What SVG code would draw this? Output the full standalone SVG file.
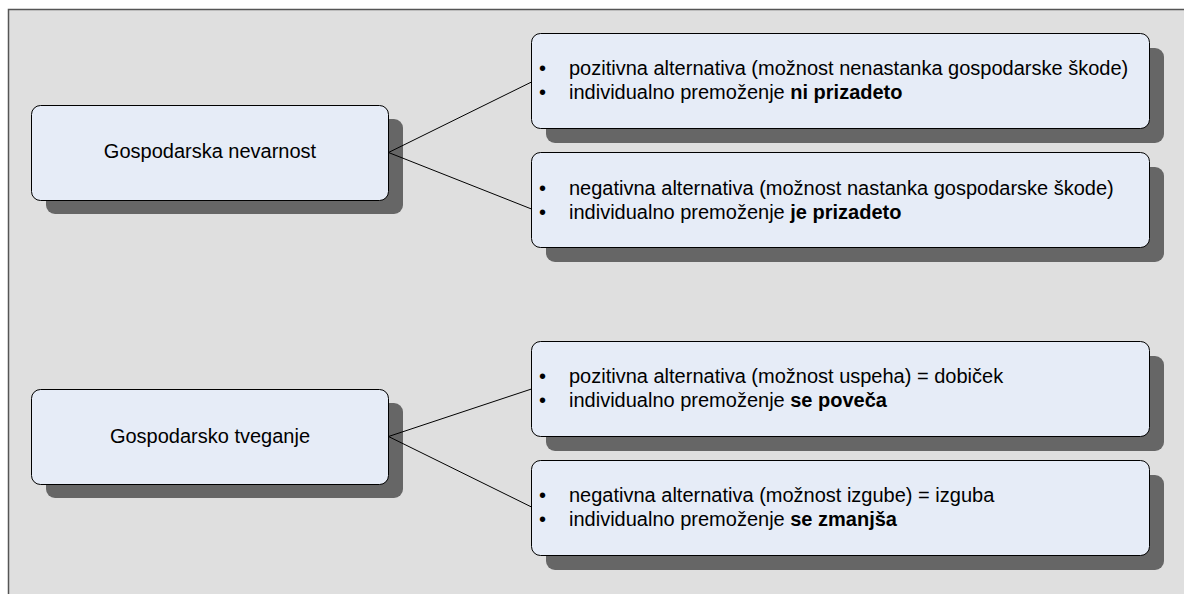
<svg xmlns="http://www.w3.org/2000/svg" width="1184" height="594" viewBox="0 0 1184 594">
  <style>
    .frame { fill: #dfdfdf; stroke: #555555; stroke-width: 1.5; }
    .shadow { fill: #666666; }
    .box { fill: #e6ecf7; stroke: #000000; stroke-width: 1; }
    .link { fill: none; stroke: #000000; stroke-width: 1; }
    text { font-family: "Liberation Sans", Arial, sans-serif; fill: #000000; }
    .title { font-size: 20px; text-anchor: middle; }
    .item { font-size: 20px; }
    .b { font-weight: bold; }
  </style>
  <rect width="1184" height="594" fill="#ffffff"/>
  <rect class="frame" x="8.5" y="9.5" width="1200" height="620"/>

  <g id="nevarnost">
    <rect class="shadow" x="46" y="119" width="357" height="95" rx="9"/>
    <rect class="box" x="31.5" y="105.5" width="357" height="95" rx="9"/>
    <text class="title" x="210" y="158">Gospodarska nevarnost</text>
  </g>

  <g id="nevarnost-pozitivna">
    <rect class="shadow" x="546" y="48" width="618" height="95" rx="9"/>
    <rect class="box" x="531.5" y="33.5" width="618" height="95" rx="9"/>
    <text class="item" x="539" y="75">•</text>
    <text class="item" x="569" y="75">pozitivna alternativa (možnost nenastanka gospodarske škode)</text>
    <text class="item" x="539" y="99">•</text>
    <text class="item" x="569" y="99">individualno premoženje <tspan class="b">ni prizadeto</tspan></text>
  </g>

  <g id="nevarnost-negativna">
    <rect class="shadow" x="546" y="167" width="618" height="95" rx="9"/>
    <rect class="box" x="531.5" y="152.5" width="618" height="95" rx="9"/>
    <text class="item" x="539" y="195">•</text>
    <text class="item" x="569" y="195">negativna alternativa (možnost nastanka gospodarske škode)</text>
    <text class="item" x="539" y="219">•</text>
    <text class="item" x="569" y="219">individualno premoženje <tspan class="b">je prizadeto</tspan></text>
  </g>

  <g id="tveganje">
    <rect class="shadow" x="46" y="403" width="357" height="95" rx="9"/>
    <rect class="box" x="31.5" y="389.5" width="357" height="95" rx="9"/>
    <text class="title" x="210" y="443">Gospodarsko tveganje</text>
  </g>

  <g id="tveganje-pozitivna">
    <rect class="shadow" x="546" y="356" width="618" height="95" rx="9"/>
    <rect class="box" x="531.5" y="341.5" width="618" height="95" rx="9"/>
    <text class="item" x="539" y="383">•</text>
    <text class="item" x="569" y="383">pozitivna alternativa (možnost uspeha) = dobiček</text>
    <text class="item" x="539" y="407">•</text>
    <text class="item" x="569" y="407">individualno premoženje <tspan class="b">se poveča</tspan></text>
  </g>

  <g id="tveganje-negativna">
    <rect class="shadow" x="546" y="475" width="618" height="95" rx="9"/>
    <rect class="box" x="531.5" y="460.5" width="618" height="95" rx="9"/>
    <text class="item" x="539" y="502">•</text>
    <text class="item" x="569" y="502">negativna alternativa (možnost izgube) = izguba</text>
    <text class="item" x="539" y="526">•</text>
    <text class="item" x="569" y="526">individualno premoženje <tspan class="b">se zmanjša</tspan></text>
  </g>

  <!-- links run from each concept box to its two alternatives, over the shadows -->
  <g id="connectors">
    <line class="link" x1="388.5" y1="152.5" x2="531.5" y2="82"/>
    <line class="link" x1="388.5" y1="152.5" x2="531.5" y2="209"/>
    <line class="link" x1="388.5" y1="436.5" x2="531.5" y2="389"/>
    <line class="link" x1="388.5" y1="436.5" x2="531.5" y2="507"/>
  </g>
</svg>
